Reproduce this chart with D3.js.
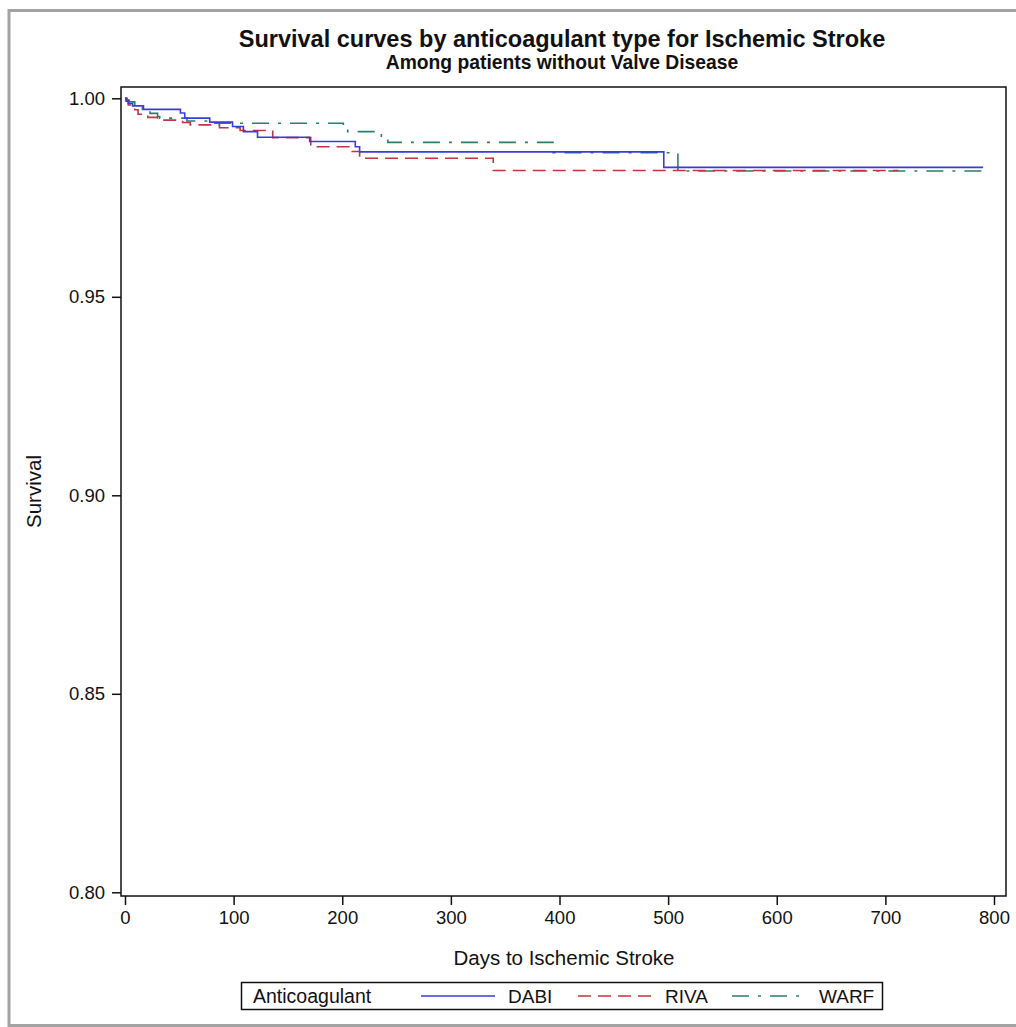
<!DOCTYPE html>
<html>
<head>
<meta charset="utf-8">
<script src="https://cdn.jsdelivr.net/npm/d3@7"></script>
<style>
  body { margin: 0; background: #fff; }
  svg text { font-family: "Liberation Sans", Arial, sans-serif; fill: #111; }
</style>
</head>
<body>
<div id="graph"></div>
<script>
// Kaplan-Meier step points (day, survival)
const dabiDays = [0, 1, 3, 7, 17, 51, 55, 78, 99, 109, 122, 170, 212, 216, 496, 790];
const dabiSurv = [1.0, 0.9993, 0.9987, 0.9981, 0.9972, 0.9963, 0.9950, 0.9940, 0.9929, 0.9916, 0.9902, 0.9891, 0.9878, 0.9865, 0.9826, 0.9826];

const rivaDays = [0, 1, 3, 9, 12, 21, 30, 53, 60, 87, 106, 136, 171, 209, 216, 339, 712];
const rivaSurv = [1.0, 0.9996, 0.9983, 0.9971, 0.9960, 0.9952, 0.9945, 0.9939, 0.9933, 0.9926, 0.9919, 0.9901, 0.9878, 0.9866, 0.9849, 0.9818, 0.9818];

const warfDays = [0, 2, 4, 9, 16, 23, 30, 32, 57, 78, 201, 205, 236, 242, 394, 509, 790];
const warfSurv = [1.0, 0.9995, 0.9991, 0.9983, 0.9971, 0.9962, 0.9954, 0.9950, 0.9943, 0.9937, 0.9924, 0.9916, 0.9900, 0.9889, 0.9863, 0.9817, 0.9817];

const groups = ["DABI", "RIVA", "WARF"];
const xTicks = [0, 100, 200, 300, 400, 500, 600, 700, 800];
const yTicks = [0.80, 0.85, 0.90, 0.95, 1.00];

const w = 1016;
const h = 1027;
const frame = { left: 121, top: 87, right: 1006, bottom: 896 };

const colors = { DABI: "#3b3bdc", RIVA: "#c2343f", WARF: "#2a7f6c" };
const dashes = { DABI: null, RIVA: "13,7", WARF: "17,9,3,9" };

const series = {
	DABI: dabiDays.map((d, i) => [d, dabiSurv[i]]),
	RIVA: rivaDays.map((d, i) => [d, rivaSurv[i]]),
	WARF: warfDays.map((d, i) => [d, warfSurv[i]])
};

const svg = d3.select('#graph')
	.append('svg')
	.attr('width', w)
	.attr('height', h);

// outer grey border
svg.append('rect')
	.attr('x', 9)
	.attr('y', 10.5)
	.attr('width', 1020)
	.attr('height', 1015)
	.attr('fill', 'none')
	.attr('stroke', '#a3a3a3')
	.attr('stroke-width', 3);

const xScale = d3.scaleLinear()
	.domain([0, 800])
	.range([125, 994]);

const yScale = d3.scaleLinear()
	.domain([0.80, 1.00])
	.range([892.3, 98.3]);

svg.append('text')
	.attr('x', 562)
	.attr('y', 47)
	.attr('text-anchor', 'middle')
	.style('font-size', '23.5px')
	.style('font-weight', 'bold')
	.text('Survival curves by anticoagulant type for Ischemic Stroke');

svg.append('text')
	.attr('x', 562)
	.attr('y', 69)
	.attr('text-anchor', 'middle')
	.style('font-size', '19.3px')
	.style('font-weight', 'bold')
	.text('Among patients without Valve Disease');

// axes
const yAxis = d3.axisLeft(yScale)
	.tickValues(yTicks)
	.tickSize(9)
	.tickPadding(7)
	.tickFormat(d3.format('.2f'));

const xAxis = d3.axisBottom(xScale)
	.tickValues(xTicks)
	.tickSize(9)
	.tickPadding(6)
	.tickFormat(d3.format('d'));

const gy = svg.append('g')
	.attr('transform', `translate(${frame.left}, 0)`)
	.call(yAxis);

const gx = svg.append('g')
	.attr('transform', `translate(0, ${frame.bottom})`)
	.call(xAxis);

[gx, gy].forEach(g => {
	g.select('.domain').remove();
	g.selectAll('line').attr('stroke', '#111').attr('stroke-width', 1.5);
	g.selectAll('text')
		.style('font-size', '18.5px')
		.style('font-family', '"Liberation Sans", Arial, sans-serif')
		.attr('fill', '#111');
});

svg.append('text')
	.attr('x', 564)
	.attr('y', 965)
	.attr('text-anchor', 'middle')
	.style('font-size', '20.5px')
	.text('Days to Ischemic Stroke');

svg.append('text')
	.attr('transform', `translate(41, ${(frame.top + frame.bottom) / 2}) rotate(-90)`)
	.attr('text-anchor', 'middle')
	.style('font-size', '20.5px')
	.text('Survival');

// curves
const line = d3.line()
	.curve(d3.curveStepAfter)
	.x(d => xScale(d[0]))
	.y(d => yScale(d[1]));

groups.slice().reverse().forEach(g => {
	svg.append('path')
		.datum(series[g])
		.attr('d', line)
		.attr('fill', 'none')
		.attr('stroke', colors[g])
		.attr('stroke-width', 1.6)
		.attr('stroke-dasharray', dashes[g]);
});

// plot frame
svg.append('rect')
	.attr('x', frame.left)
	.attr('y', frame.top)
	.attr('width', frame.right - frame.left)
	.attr('height', frame.bottom - frame.top)
	.attr('fill', 'none')
	.attr('stroke', '#111')
	.attr('stroke-width', 1.5);

// legend
const legend = svg.append('g').attr('class', 'legend');

legend.append('rect')
	.attr('x', 241.5)
	.attr('y', 982.5)
	.attr('width', 641)
	.attr('height', 27)
	.attr('fill', '#fff')
	.attr('stroke', '#111')
	.attr('stroke-width', 1.5);

legend.append('text')
	.attr('x', 253)
	.attr('y', 1003)
	.style('font-size', '19.5px')
	.text('Anticoagulant');

const legendX = { DABI: 421, RIVA: 578, WARF: 732 };

groups.forEach(g => {
	legend.append('line')
		.attr('x1', legendX[g])
		.attr('x2', legendX[g] + 74)
		.attr('y1', 996)
		.attr('y2', 996)
		.attr('stroke', colors[g])
		.attr('stroke-width', 1.6)
		.attr('stroke-dasharray', dashes[g]);

	legend.append('text')
		.attr('x', legendX[g] + 87)
		.attr('y', 1003)
		.style('font-size', '19px')
		.text(g);
});
</script>
</body>
</html>
